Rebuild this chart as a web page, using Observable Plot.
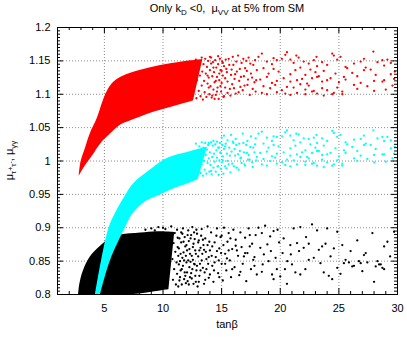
<!DOCTYPE html>
<html><head><meta charset="utf-8">
<script src="https://cdn.jsdelivr.net/npm/d3@7"></script>
<script src="https://cdn.jsdelivr.net/npm/@observablehq/plot@0.6"></script>
<style>html,body{margin:0;padding:0;background:#fff}svg{display:block}</style>
</head><body><div id="chart"></div>
<script>
// ---- axes ----
const xTicks = [5, 10, 15, 20, 25, 30];
const xTickLabels = ["5", "10", "15", "20", "25", "30"];
const yTicks = [0.8, 0.85, 0.9, 0.95, 1.0, 1.05, 1.1, 1.15, 1.2];
const yTickLabels = ["0.8", "0.85", "0.9", "0.95", "1", "1.05", "1.1", "1.15", "1.2"];

// ---- dense bands (outline of the solid part of each cloud) ----
const redUpX = [2.85, 3.0, 3.4, 3.8, 4.4, 4.9, 5.3, 5.8, 6.6, 8.1, 9.8, 11.5, 13.4];
const redUpY = [0.977, 0.998, 1.020, 1.041, 1.064, 1.090, 1.106, 1.118, 1.127, 1.136, 1.143, 1.148, 1.152];
const redLoX = [2.85, 3.1, 3.5, 4.0, 4.7, 5.5, 6.4, 7.2, 8.1, 9.2, 10.4, 11.6, 12.6];
const redLoY = [0.977, 0.985, 0.996, 1.008, 1.026, 1.040, 1.054, 1.060, 1.066, 1.073, 1.079, 1.085, 1.090];

const cyanUpX = [4.24, 4.75, 5.4, 5.9, 6.7, 7.5, 8.9, 10.4, 12.3, 13.8];
const cyanUpY = [0.8, 0.85, 0.9, 0.92, 0.945, 0.966, 0.986, 1.004, 1.014, 1.021];
const cyanLoX = [4.67, 5.5, 6.8, 7.4, 8.6, 9.5, 10.5, 11.5, 12.3, 13.0];
const cyanLoY = [0.8, 0.85, 0.9, 0.92, 0.94, 0.947, 0.955, 0.962, 0.967, 0.972];

const blackUpX = [2.8, 2.9, 3.2, 3.8, 4.6, 5.5, 6.4, 8.1, 9.5, 11.0];
const blackUpY = [0.8, 0.815, 0.835, 0.856, 0.871, 0.884, 0.889, 0.892, 0.894, 0.893];
const blackLoX = [2.8, 3.5, 4.5, 5.5, 6.5, 7.5, 8.5, 9.3, 10.0, 10.5];
const blackLoY = [0.8, 0.8, 0.8, 0.8, 0.8, 0.8, 0.802, 0.804, 0.806, 0.807];

// ---- scattered points: red and cyan, sparse region (tanβ > 18) ----
const sparseX = [18.14,18.43,19.43,20.43,20.57,21.37,21.57,23.09,24.43,24.57,25.14,27.14,27.94,28.29,28.71,29.43,
18.86,19.29,19.71,20.14,20.86,21.14,22.0,22.43,22.86,23.14,23.57,24.0,24.86,25.57,25.71,26.29,26.86,27.29,27.71,28.86,29.14,29.77,
18.57,19.0,19.43,19.86,20.86,21.29,21.71,22.14,22.57,23.0,23.29,23.71,24.29,24.71,25.43,26.14,26.57,27.14,28.14,28.86,29.43,
18.29,18.86,19.29,19.71,20.29,20.86,21.43,21.86,22.29,22.71,23.14,23.57,24.0,25.0,25.57,26.29,26.86,27.43,28.0,28.71,29.71,
18.57,19.14,19.57,20.14,20.57,21.14,21.71,22.14,22.43,22.86,23.57,24.0,24.43,24.86,25.29,26.57,28.0,29.0,29.57,
18.43,18.86,19.71,20.43,20.86,21.43,22.14,22.71,23.14,23.71,24.57,25.29];
const redSparseY = [1.156,1.161,1.154,1.159,1.163,1.158,1.155,1.156,1.161,1.158,1.156,1.153,1.164,1.148,1.151,1.147,
1.149,1.145,1.151,1.153,1.152,1.147,1.149,1.146,1.151,1.142,1.148,1.144,1.152,1.141,1.139,1.146,1.149,1.140,1.137,1.143,1.152,1.134,
1.139,1.131,1.138,1.134,1.130,1.136,1.140,1.129,1.137,1.133,1.127,1.135,1.124,1.131,1.126,1.132,1.127,1.136,1.129,1.121,1.130,
1.122,1.126,1.117,1.120,1.124,1.119,1.121,1.123,1.116,1.124,1.126,1.119,1.121,1.118,1.122,1.114,1.117,1.112,1.120,1.119,1.123,
1.112,1.109,1.114,1.106,1.111,1.110,1.115,1.107,1.113,1.105,1.109,1.106,1.100,1.110,1.104,1.108,1.105,1.107,1.113,
1.102,1.100,1.103,1.101,1.099,1.102,1.100,1.104,1.101,1.098,1.102,1.100];
const cyanSparseY = [1.041,1.044,1.037,1.043,1.046,1.041,1.040,1.039,1.045,1.042,1.039,1.038,1.046,1.034,1.036,1.031,
1.035,1.030,1.036,1.037,1.038,1.031,1.034,1.033,1.035,1.027,1.034,1.030,1.036,1.028,1.025,1.032,1.033,1.026,1.024,1.030,1.036,1.021,
1.026,1.020,1.024,1.022,1.019,1.023,1.028,1.016,1.025,1.020,1.015,1.023,1.012,1.019,1.016,1.021,1.015,1.024,1.018,1.010,1.019,
1.012,1.014,1.007,1.011,1.013,1.008,1.010,1.013,1.006,1.012,1.015,1.009,1.010,1.007,1.012,1.004,1.008,1.003,1.009,1.010,1.011,
1.003,1.000,1.005,0.998,1.002,1.001,1.006,0.999,1.004,0.997,1.002,0.998,0.993,1.001,0.996,1.000,0.998,0.999,1.004,
0.995,0.993,0.996,0.994,0.992,0.995,0.994,0.996,0.993,0.991,0.995,0.993];

// ---- red / cyan transition points (tanβ ≈ 12.8–18) ----
const edgeX = [12.8,12.85,12.9,13.0,13.05,13.1,13.15,13.2,13.3,13.3,13.35,13.4,13.45,13.5,13.55,13.6,13.65,13.7,13.75,13.8,13.85,13.9,13.95,14.0,14.05,14.1,14.15,14.2,14.25,14.3,14.35,14.4,14.45,14.5,14.55,14.6,14.65,14.7,14.75,14.8,14.85,14.9,14.95,15.0,15.05,15.1,15.15,15.2,15.3,15.35,15.45,15.5,15.65,15.75,15.85,15.95,16.05,16.15,16.25,16.45,16.55,16.65,16.85,16.95,17.15,17.25,17.45,17.65,17.85,17.95];
const redEdgeY = [1.152,1.094,1.121,1.139,1.105,1.147,1.128,1.097,1.155,1.113,1.134,1.092,1.145,1.120,1.103,1.153,1.131,1.096,1.141,1.116,1.150,1.125,1.100,1.136,1.112,1.155,1.095,1.127,1.148,1.107,1.133,1.118,1.151,1.099,1.140,1.126,1.110,1.145,1.093,1.121,1.153,1.136,1.104,1.117,1.149,1.128,1.096,1.142,1.110,1.152,1.133,1.119,1.144,1.098,1.137,1.156,1.109,1.130,1.149,1.103,1.138,1.126,1.153,1.113,1.135,1.122,1.146,1.108,1.151,1.121];
const cyanEdgeY = [1.026,0.980,1.001,1.016,0.988,1.022,1.007,0.982,1.028,0.995,1.012,0.978,1.020,1.000,0.987,1.027,1.009,0.981,1.017,0.997,1.024,1.004,0.984,1.013,0.994,1.028,0.980,1.006,1.023,0.990,1.011,0.999,1.025,0.984,1.016,1.005,0.992,1.020,0.979,1.001,1.027,1.013,0.988,0.998,1.024,1.007,0.981,1.018,0.992,1.026,1.011,1.000,1.020,0.983,1.014,1.029,0.992,1.008,1.024,0.987,1.015,1.005,1.027,0.995,1.012,1.002,1.021,0.991,1.025,1.001];

const redMidX = [14.0,14.2,14.3,14.5,14.6,14.7,14.8,14.9,15.1,15.2,15.3,15.4,15.6,15.7,15.8,15.9,16.0,16.2,16.3,16.4,16.5,16.7,16.8,16.9,17.0,17.2,17.3,17.4,17.5,17.7,17.8,17.9,18.0,13.8,13.9,14.1,14.4,15.0,15.5,16.1,16.6,17.1,17.6];
const redMidY = [1.156,1.098,1.140,1.120,1.104,1.157,1.131,1.112,1.147,1.097,1.124,1.138,1.153,1.108,1.129,1.115,1.144,1.101,1.134,1.158,1.120,1.147,1.106,1.127,1.139,1.114,1.155,1.099,1.131,1.144,1.118,1.104,1.136,1.128,1.110,1.146,1.093,1.135,1.102,1.123,1.111,1.150,1.125];
const cyanMidX = [14.6,14.7,14.9,15.0,15.1,15.3,15.4,15.5,15.7,15.8,15.9,16.1,16.2,16.3,16.5,16.6,16.8,16.9,17.0,17.2,17.3,17.5,17.6,17.7,17.9,18.0,14.8,15.2,15.6,16.0,16.4,16.7,17.1,17.4,17.8,14.3,14.1,13.9];
const cyanMidY = [1.029,0.992,1.012,1.035,1.001,1.022,0.989,1.031,1.008,1.039,0.996,1.018,1.033,0.990,1.026,1.004,1.041,1.013,0.993,1.030,1.009,1.037,0.998,1.020,1.034,1.006,1.020,1.038,0.995,1.027,1.010,0.997,1.024,1.002,1.013,1.030,0.985,1.027];

// ---- black points ----
const blackMidX = [11.2,11.3,11.4,11.5,11.6,11.7,11.8,11.9,12.0,12.1,12.2,12.3,12.4,12.5,12.6,12.7,12.8,12.9,13.0,13.1,13.2,13.3,13.4,13.5,13.6,13.7,13.8,13.9,14.0,14.1,14.2,14.3,14.4,14.5,14.6,14.7,14.8,14.9,15.0,15.1,15.2,15.3,15.4,15.5,15.6,15.7,15.8,15.9,16.0,16.1,16.2,16.4,16.5,16.6,16.7,16.8,17.0,17.1,17.2,17.3,17.5,17.6,17.7,17.9,18.0,
11.25,11.35,11.45,11.55,11.65,11.75,11.85,11.95,12.05,12.15,12.25,12.35,12.45,12.55,12.65,12.75,12.85,12.95,13.05,13.15,13.25,13.35,13.45,13.55,13.65,13.85,13.95,14.15,14.35,14.55,14.75,14.95,15.15,15.45,15.75,16.3,16.9,17.4,17.8,
18.3,18.6,18.9,19.2,19.6,19.9,20.2,20.6,20.9,18.5,19.3,20.4,21.6,22.2,
8.5,9.0,9.6,10.2,10.7,9.3,10.0];
const blackMidY = [0.897,0.812,0.884,0.861,0.838,0.899,0.823,0.872,0.848,0.889,0.815,0.861,0.832,0.901,0.876,0.845,0.819,0.891,0.857,0.828,0.870,0.898,0.840,0.816,0.884,0.853,0.902,0.825,0.866,0.893,0.843,0.819,0.878,0.856,0.899,0.832,0.869,0.886,0.846,0.821,0.900,0.861,0.836,0.879,0.892,0.851,0.826,0.868,0.897,0.841,0.882,0.858,0.829,0.893,0.871,0.846,0.885,0.820,0.862,0.899,0.838,0.876,0.852,0.889,0.830,
0.871,0.845,0.826,0.893,0.855,0.879,0.833,0.817,0.866,0.896,0.841,0.884,0.824,0.852,0.893,0.866,0.836,0.812,0.881,0.846,0.888,0.861,0.874,0.833,0.864,0.846,0.879,0.858,0.836,0.888,0.851,0.862,0.874,0.854,0.884,0.866,0.857,0.872,0.843,
0.870,0.860,0.875,0.865,0.855,0.878,0.862,0.850,0.860,0.845,0.830,0.838,0.865,0.886,
0.897,0.899,0.901,0.898,0.902,0.896,0.900];
const blackEdgeX = [10.8,10.85,10.9,10.95,11.0,11.05,11.1,11.15,11.2,11.25,11.3,11.35,11.4,11.45,11.5,11.55,11.6,11.65,11.7,11.75,11.8,11.85,11.9,11.95,12.0,12.05,12.1,12.15,12.2,12.25,12.3,12.35,12.4,12.45,12.5,12.55,12.6,12.65,12.7,12.75,12.8,12.85,12.9,13.0,13.05,13.1,13.2,13.3,13.4,13.5,13.6,13.7,13.8,13.9,14.0,14.2,14.4,14.6,14.8,15.0,15.3,15.6,15.9,16.2,16.6,17.0,17.4,17.8];
const blackEdgeY = [0.853,0.822,0.877,0.838,0.892,0.864,0.815,0.848,0.831,0.885,0.858,0.869,0.821,0.850,0.836,0.878,0.815,0.891,0.843,0.863,0.851,0.886,0.828,0.858,0.874,0.833,0.820,0.851,0.880,0.868,0.826,0.849,0.889,0.858,0.838,0.871,0.816,0.846,0.883,0.828,0.861,0.897,0.843,0.878,0.819,0.866,0.836,0.851,0.882,0.867,0.822,0.838,0.874,0.856,0.830,0.872,0.848,0.865,0.826,0.888,0.846,0.866,0.838,0.873,0.834,0.862,0.889,0.856];
const blackSparseX = [18.14,18.43,18.71,19.14,19.43,19.77,20.29,20.86,21.14,21.43,21.71,22.0,22.43,22.71,23.14,23.29,23.57,23.86,24.0,24.29,24.57,24.86,25.29,25.57,25.86,26.0,26.29,26.57,26.86,27.14,27.29,27.86,28.0,28.29,28.57,28.71,28.86,29.14,29.37,29.71,
18.43,19.0,19.43,19.71,20.0,20.57,21.0,21.29,21.71,22.14,22.43,22.86,23.43,23.71,24.14,24.43,24.86,25.14,25.43,26.14,26.71,27.0,27.43,28.14,28.43,28.86];
const blackSparseY = [0.900,0.892,0.903,0.887,0.895,0.897,0.884,0.874,0.899,0.877,0.901,0.870,0.876,0.905,0.896,0.867,0.872,0.876,0.899,0.857,0.869,0.894,0.874,0.852,0.848,0.865,0.843,0.881,0.847,0.859,0.862,0.892,0.819,0.850,0.845,0.840,0.872,0.879,0.857,0.894,
0.834,0.850,0.823,0.838,0.827,0.816,0.845,0.833,0.830,0.838,0.852,0.855,0.847,0.833,0.828,0.823,0.840,0.831,0.847,0.842,0.850,0.835,0.848,0.842,0.845,0.838];

// ---- build tables ----
const band = (ux, uy, lx, ly) => ux.map((v, i) => ({xa: v, ya: uy[i], xb: lx[i], yb: ly[i]}));
const pts = (xs, ys) => xs.map((v, i) => ({x: v, y: ys[i]}));
const redBand = band(redUpX, redUpY, redLoX, redLoY);
const cyanBand = band(cyanUpX, cyanUpY, cyanLoX, cyanLoY);
const blackBand = band(blackUpX, blackUpY, blackLoX, blackLoY);
const redPts = pts(sparseX, redSparseY).concat(pts(edgeX, redEdgeY), pts(redMidX, redMidY));
const cyanPts = pts(sparseX, cyanSparseY).concat(pts(edgeX, cyanEdgeY), pts(cyanMidX, cyanMidY));
const blackPts = pts(blackEdgeX, blackEdgeY).concat(pts(blackMidX, blackMidY), pts(blackSparseX, blackSparseY));

const W = 407, H = 337, ML = 57, MR = 10, MT = 27, MB = 43;
const FW = W - ML - MR, FH = H - MT - MB;
const xMinor = d3.range(2, 30).filter(v => v % 5 !== 0);
const yMinor = d3.range(161, 240).filter(i => i % 10 !== 0).map(i => i / 200);
const yMajorIn = yTicks.slice(1, -1);
const xMajorIn = xTicks.slice(0, -1);
const LMaj = 6, LMin = 3;
const tickStyle = {stroke: "#000", strokeWidth: 1};
const gridStyle = {stroke: "#8c8c8c", strokeWidth: 1, strokeDasharray: "1,2"};
const dotR = 1.15;

const svg = Plot.plot({
  width: W, height: H, marginLeft: ML, marginRight: MR, marginTop: MT, marginBottom: MB,
  style: {fontFamily: "'Liberation Sans', Arial, Helvetica, sans-serif", fontSize: "11px", background: "#fff", color: "#000"},
  x: {domain: [1, 30]},
  y: {domain: [0.8, 1.2]},
  marks: [
    Plot.ruleX(xMajorIn, gridStyle),
    Plot.ruleY(yMajorIn, gridStyle),
    Plot.area(blackBand, {x1: "xa", y1: "ya", x2: "xb", y2: "yb", fill: "#000", curve: "catmull-rom"}),
    Plot.dot(blackPts, {x: "x", y: "y", r: dotR, fill: "#000"}),
    Plot.area(cyanBand, {x1: "xa", y1: "ya", x2: "xb", y2: "yb", fill: "#00ffff", curve: "catmull-rom", clip: true}),
    Plot.dot(cyanPts, {x: "x", y: "y", r: dotR, fill: "#00ffff"}),
    Plot.area(redBand, {x1: "xa", y1: "ya", x2: "xb", y2: "yb", fill: "#ff0000", curve: "catmull-rom"}),
    Plot.dot(redPts, {x: "x", y: "y", r: dotR, fill: "#ff0000"}),
    // inward tick marks on all four sides
    Plot.ruleX(xMajorIn, {...tickStyle, insetTop: FH - LMaj}),
    Plot.ruleX(xMajorIn, {...tickStyle, insetBottom: FH - LMaj}),
    Plot.ruleX(xMinor, {...tickStyle, insetTop: FH - LMin}),
    Plot.ruleX(xMinor, {...tickStyle, insetBottom: FH - LMin}),
    Plot.ruleY(yMajorIn, {...tickStyle, insetRight: FW - LMaj}),
    Plot.ruleY(yMajorIn, {...tickStyle, insetLeft: FW - LMaj}),
    Plot.ruleY(yMinor, {...tickStyle, insetRight: FW - LMin}),
    Plot.ruleY(yMinor, {...tickStyle, insetLeft: FW - LMin}),
    Plot.frame({stroke: "#000"}),
    Plot.axisX(xTicks, {tickSize: 0, tickPadding: 10, label: null, tickFormat: d => xTickLabels[xTicks.indexOf(d)]}),
    Plot.axisY(yTicks, {tickSize: 0, tickPadding: 7, label: null, tickFormat: d => yTickLabels[yTicks.indexOf(d)]})
  ]
});

const s = d3.select(svg);
const font = "'Liberation Sans', Arial, Helvetica, sans-serif";
// title
const t = s.append("text").attr("x", ML + FW / 2).attr("y", 12).attr("text-anchor", "middle")
  .attr("font-family", font).attr("font-size", 11).attr("fill", "#000");
t.append("tspan").text("Only k");
t.append("tspan").attr("dy", 3).attr("font-size", 8).text("D");
t.append("tspan").attr("dy", -3).text(" <0,  \u03bc");
t.append("tspan").attr("dy", 3).attr("font-size", 8).text("VV");
t.append("tspan").attr("dy", -3).text(" at 5% from SM");
// x label
s.append("text").attr("x", ML + FW / 2).attr("y", 328).attr("text-anchor", "middle")
  .attr("font-family", font).attr("font-size", 11).attr("fill", "#000").text("tan\u03b2");
// y label
const yl = s.append("text").attr("transform", `translate(13,${MT + FH / 2}) rotate(-90)`).attr("text-anchor", "middle")
  .attr("font-family", font).attr("font-size", 11).attr("fill", "#000");
yl.append("tspan").text("\u03bc");
yl.append("tspan").attr("dy", 3).attr("font-size", 8).text("\u03c4");
yl.append("tspan").attr("dy", -3).attr("font-size", 7).text("+");
yl.append("tspan").attr("dy", 3).attr("font-size", 8).text("\u03c4");
yl.append("tspan").attr("dy", -3).attr("font-size", 7).text("-");
yl.append("tspan").text(", \u03bc");
yl.append("tspan").attr("dy", 3).attr("font-size", 8).text("\u03b3\u03b3");

document.getElementById("chart").appendChild(svg);
</script>
</body></html>
